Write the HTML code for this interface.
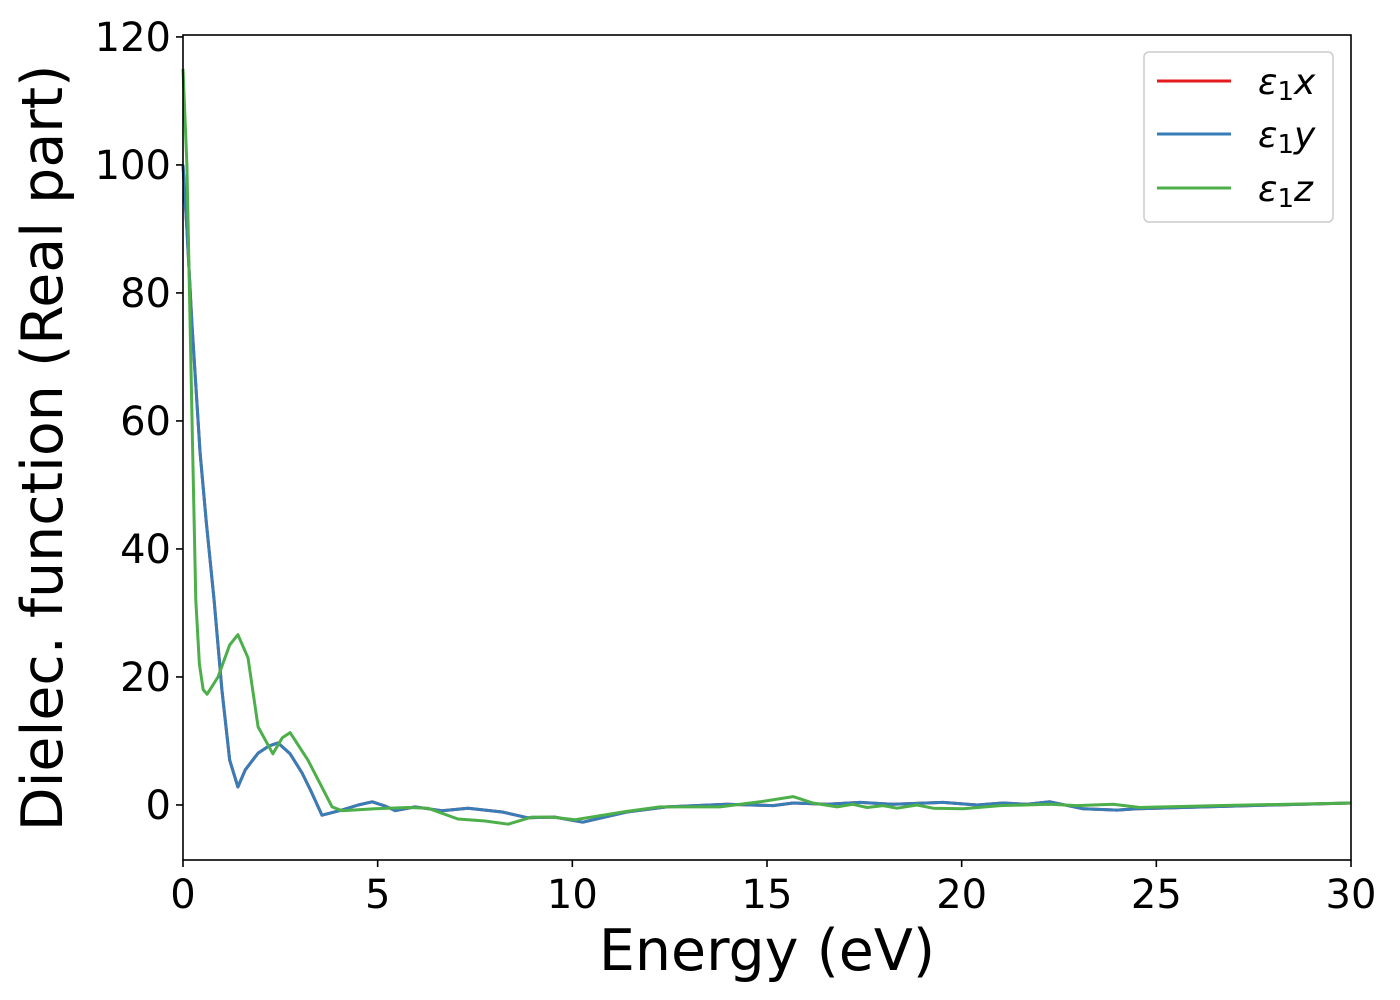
<!DOCTYPE html>
<html><head><meta charset="utf-8"><style>
html,body{margin:0;padding:0;background:#fff;}
svg{display:block;font-family:"DejaVu Sans","Liberation Sans",sans-serif;}
</style></head><body>
<svg id="chart" width="1400" height="1000" viewBox="0 0 1400 1000">
<rect x="0" y="0" width="1400" height="1000" fill="#fff"/>
<g id="series"></g>
<rect x="183" y="35" width="1168" height="825" fill="none" stroke="#000" stroke-width="1.6"/>
<g id="xticks"></g>
<g id="yticks"></g>
<text x="767" y="970" font-size="57" text-anchor="middle">Energy (eV)</text>
<text transform="translate(62,448) rotate(-90)" font-size="57" text-anchor="middle">Dielec. function (Real part)</text>
<g>
<rect x="1144" y="52" width="189" height="170" rx="5" fill="#fff" fill-opacity="0.8" stroke="#ccc" stroke-width="1.5"/>
<g><line x1="1157" y1="81" x2="1231" y2="81" stroke="#e41a1c" stroke-width="3"/><text x="1258" y="94" font-size="36" font-style="italic">ε<tspan font-style="normal" font-size="26" dy="6">1</tspan><tspan dy="-6">x</tspan></text></g>
<g><line x1="1157" y1="134" x2="1231" y2="134" stroke="#377eb8" stroke-width="3"/><text x="1258" y="147" font-size="36" font-style="italic">ε<tspan font-style="normal" font-size="26" dy="6">1</tspan><tspan dy="-6">y</tspan></text></g>
<g><line x1="1157" y1="188" x2="1231" y2="188" stroke="#4daf4a" stroke-width="3"/><text x="1258" y="201" font-size="36" font-style="italic">ε<tspan font-style="normal" font-size="26" dy="6">1</tspan><tspan dy="-6">z</tspan></text></g>
</g>
</svg>
<script>
const energyXY = [0,0.1,0.23,0.44,0.6,0.8,1.0,1.2,1.41,1.6,1.93,2.2,2.44,2.75,3.06,3.3,3.57,4.08,4.5,4.86,5.2,5.45,5.96,6.65,7.32,8.2,8.86,9.55,10.27,11.4,12.43,13.97,15.16,15.67,16.54,17.39,18.24,19.52,20.4,21.06,21.68,22.27,23.12,23.99,24.5,25.69,27.4,30];
const eps1x = [100,90,75,55,44,32,18,7,2.8,5.5,8.1,9.2,9.7,8,5,2,-1.6,-0.8,0,0.5,-0.2,-0.9,-0.3,-0.9,-0.5,-1.1,-2,-1.9,-2.7,-1.1,-0.3,0.1,-0.1,0.3,0.1,0.4,0.1,0.4,0,0.3,0.1,0.5,-0.6,-0.8,-0.6,-0.4,-0.1,0.3];
const eps1y = eps1x.slice();
const energyZ = [0,0.1,0.18,0.25,0.33,0.42,0.52,0.62,0.9,1.2,1.41,1.67,1.93,2.31,2.55,2.75,3.21,3.83,4.08,4.93,5.78,6.29,7.06,7.76,8.35,8.96,9.48,10.07,11.4,12.25,13.79,14.82,15.67,16.18,16.8,17.2,17.57,17.98,18.34,18.85,19.27,20.04,20.99,22.27,22.96,23.89,24.58,26.56,30];
const eps1z = [115,100,76,55,32,22,18,17.3,20,25,26.6,23,12.2,8,10.5,11.3,7,-0.3,-0.9,-0.6,-0.4,-0.5,-2.2,-2.5,-3,-1.9,-1.9,-2.3,-1,-0.3,-0.3,0.5,1.3,0.3,-0.3,0.1,-0.4,-0.1,-0.5,0,-0.5,-0.6,-0.1,0.1,-0.1,0.1,-0.4,-0.1,0.3];
const xTicks = [0,5,10,15,20,25,30];
const yTicks = [0,20,40,60,80,100,120];

const X0=183, X1=1351, Y0=860, Y1=35, xmin=0, xmax=30, ymin=-8.6, ymax=120.3;
const sx = v => X0 + (v - xmin) / (xmax - xmin) * (X1 - X0);
const sy = v => Y0 - (v - ymin) / (ymax - ymin) * (Y0 - Y1);
const NS = "http://www.w3.org/2000/svg";
const series = document.getElementById('series');
function drawLine(xs, ys, color, name) {
  const p = document.createElementNS(NS, 'polyline');
  p.setAttribute('points', xs.map((x, i) => sx(x).toFixed(1) + ',' + sy(ys[i]).toFixed(1)).join(' '));
  p.setAttribute('fill', 'none');
  p.setAttribute('stroke', color);
  p.setAttribute('stroke-width', '3');
  p.setAttribute('stroke-linejoin', 'round');
  
  
  series.appendChild(p);
}
drawLine(energyXY, eps1x, '#e41a1c', 'eps1x-line');
drawLine(energyXY, eps1y, '#377eb8', 'eps1y-line');
drawLine(energyZ, eps1z, '#4daf4a', 'eps1z-line');

const xg = document.getElementById('xticks');
xTicks.forEach(t => {
  const l = document.createElementNS(NS, 'line');
  l.setAttribute('x1', sx(t)); l.setAttribute('x2', sx(t));
  l.setAttribute('y1', Y0); l.setAttribute('y2', Y0 + 7);
  l.setAttribute('stroke', '#000'); l.setAttribute('stroke-width', '1.6');
  
  
  xg.appendChild(l);
  const tx = document.createElementNS(NS, 'text');
  tx.setAttribute('x', sx(t)); tx.setAttribute('y', 908);
  tx.setAttribute('font-size', '40'); tx.setAttribute('text-anchor', 'middle');
  tx.textContent = t;
  
  
  xg.appendChild(tx);
});
const yg = document.getElementById('yticks');
yTicks.forEach(t => {
  const l = document.createElementNS(NS, 'line');
  l.setAttribute('x1', X0 - 7); l.setAttribute('x2', X0);
  l.setAttribute('y1', sy(t)); l.setAttribute('y2', sy(t));
  l.setAttribute('stroke', '#000'); l.setAttribute('stroke-width', '1.6');
  
  
  yg.appendChild(l);
  const tx = document.createElementNS(NS, 'text');
  tx.setAttribute('x', X0 - 12); tx.setAttribute('y', sy(t) + 14);
  tx.setAttribute('font-size', '40'); tx.setAttribute('text-anchor', 'end');
  tx.textContent = t;
  
  
  yg.appendChild(tx);
});
</script>
</body></html>
